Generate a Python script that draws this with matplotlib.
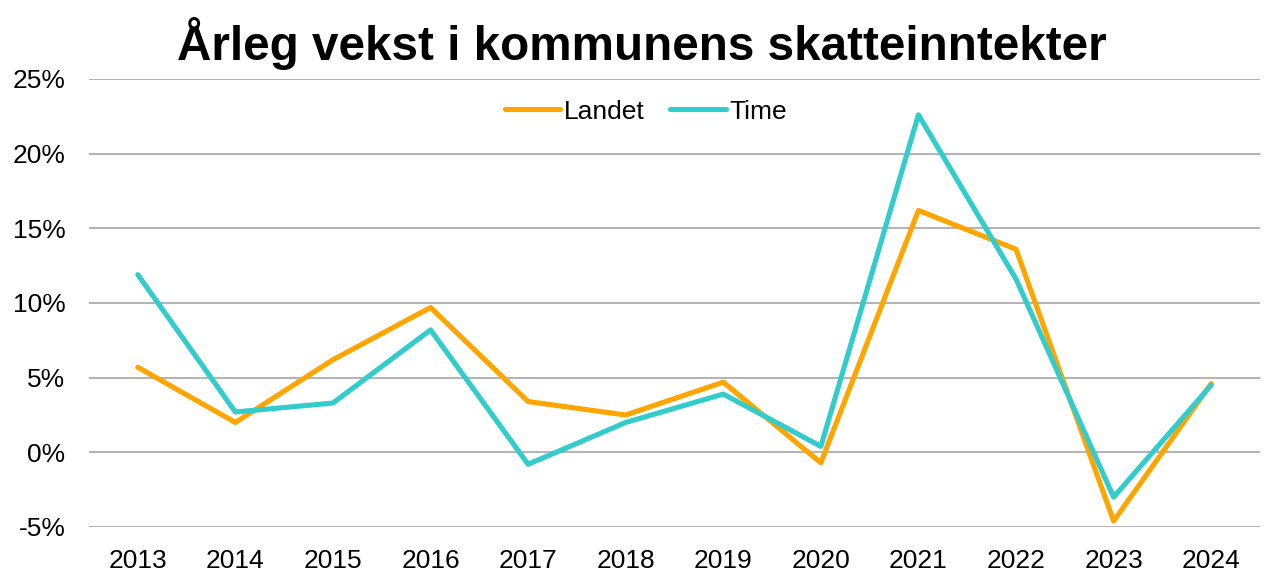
import matplotlib.pyplot as plt
from matplotlib.ticker import FuncFormatter

plt.rcParams['font.family'] = ['Liberation Sans', 'DejaVu Sans']

#Data
aar = ['2013', '2014', '2015', '2016', '2017', '2018', '2019', '2020', '2021', '2022', '2023', '2024']
landet = [5.7, 2.0, 6.2, 9.7, 3.4, 2.5, 4.7, -0.7, 16.2, 13.6, -4.6, 4.6]
time = [11.9, 2.7, 3.3, 8.2, -0.8, 2.0, 3.9, 0.4, 22.6, 11.6, -3.0, 4.5]

fig = plt.figure(figsize=(12.65, 5.74), dpi=100)
ax = fig.add_axes([89 / 1265, 1 - 527 / 574, 1171 / 1265, 448 / 574])

x = range(len(aar))
ax.plot(x, landet, color='#FFA500', linewidth=3.7, label='Landet',
        solid_joinstyle='round', solid_capstyle='round')
ax.plot(x, time, color='#33CCCC', linewidth=3.7, label='Time',
        solid_joinstyle='round', solid_capstyle='round')

ax.set_xlim(-0.5, len(aar) - 0.5)
ax.set_ylim(-5, 25)
ax.set_yticks(range(-5, 26, 5))
ax.yaxis.set_major_formatter(FuncFormatter(lambda v, p: f'{v:.0f}%'))
ax.set_xticks(list(x))
ax.set_xticklabels(aar)
ax.tick_params(length=0, labelsize=19)
ax.tick_params(axis='x', pad=16)
ax.tick_params(axis='y', pad=17)
ax.grid(axis='y', color='#A6A6A6', linewidth=1.2)
ax.set_axisbelow(True)
for s in ax.spines.values():
    s.set_visible(False)

ax.legend(loc='center', bbox_to_anchor=(0.4757, 0.927), ncol=2, frameon=False,
          fontsize=19, handlelength=2.1, columnspacing=0.95, handletextpad=0.15)

fig.text(0.5075, 1 - 60 / 574, 'Årleg vekst i kommunens skatteinntekter', ha='center', va='baseline',
         fontsize=34.3, fontweight='bold')

fig.savefig('out.png', dpi=100)
